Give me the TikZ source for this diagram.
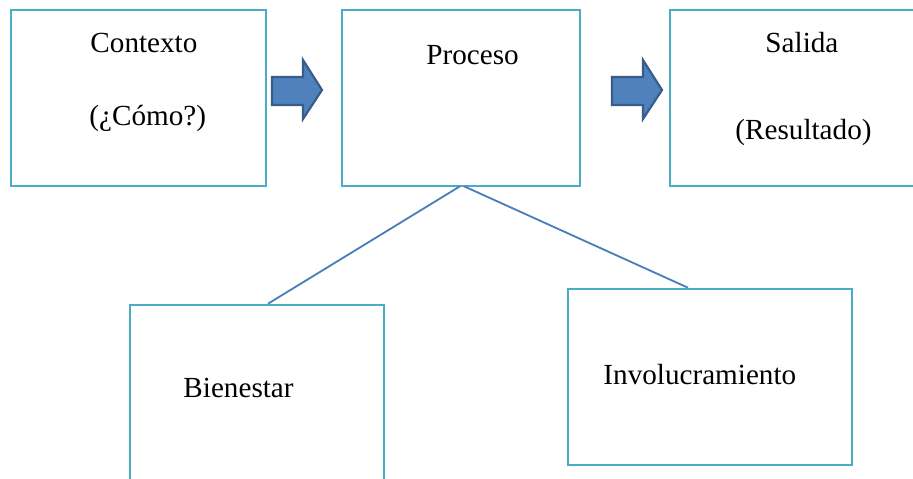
\documentclass[tikz,border=0pt]{standalone}
\usepackage{fontspec}
\setmainfont{Liberation Serif}
\definecolor{boxc}{HTML}{4BACC6}
\definecolor{arrfill}{HTML}{4F81BD}
\definecolor{arrdraw}{HTML}{385D8A}
\definecolor{linec}{HTML}{4A7EBB}
\begin{document}
\begin{tikzpicture}[x=0.4115pt,y=-0.4115pt,
  boxst/.style={draw=boxc,line width=1.05pt,rectangle,inner sep=0pt},
  lbl/.style={anchor=base west,inner sep=0pt,font=\fontsize{12}{14}\selectfont},
  arrst/.style={fill=arrfill,draw=arrdraw,line width=0.9pt,line join=miter},
  conn/.style={draw=linec,line width=0.75pt}]
\clip (0,0) rectangle (913,479);
\fill[white] (0,0) rectangle (913,479);
% boxes
\node[boxst,minimum width=255*0.4115pt,minimum height=176*0.4115pt] (ctx) at (138.5,98) {};
\node[boxst,minimum width=238*0.4115pt,minimum height=176*0.4115pt] (proc) at (461,98) {};
\node[boxst,minimum width=260*0.4115pt,minimum height=176*0.4115pt] (sal) at (800,98) {};
\node[boxst,minimum width=254*0.4115pt,minimum height=200*0.4115pt] (bien) at (257,405) {};
\node[boxst,minimum width=284*0.4115pt,minimum height=176*0.4115pt] (inv) at (710,377) {};
% labels
\node[lbl] (t1) at (90,53) {Contexto};
\node[lbl] (t2) at (89,126) {(¿Cómo?)};
\node[lbl] (t3) at (426,65) {Proceso};
\node[lbl] (t4) at (765,53) {Salida};
\node[lbl] (t5) at (735,140) {(Resultado)};
\node[lbl] (t6) at (183,398) {Bienestar};
\node[lbl] (t7) at (603,385) {Involucramiento};
% block arrows
\draw[arrst] (272,77) -- (303,77) -- (303,60) -- (322,90) -- (303,119) -- (303,105) -- (272,105) -- cycle;
\draw[arrst] (612,77) -- (643,77) -- (643,60) -- (662,90) -- (643,119) -- (643,105) -- (612,105) -- cycle;
% connectors
\coordinate (apL) at ([xshift=-1*0.4115pt,yshift=1*0.4115pt]proc.south);
\coordinate (apR) at ([xshift=3*0.4115pt,yshift=1*0.4115pt]proc.south);
\coordinate (bienTop) at (bien.north -| 268,0);
\coordinate (invTop) at (inv.north -| 688,0);
\draw[conn] (apL) -- (bienTop);
\draw[conn] (apR) -- (invTop);
\end{tikzpicture}
\end{document}
